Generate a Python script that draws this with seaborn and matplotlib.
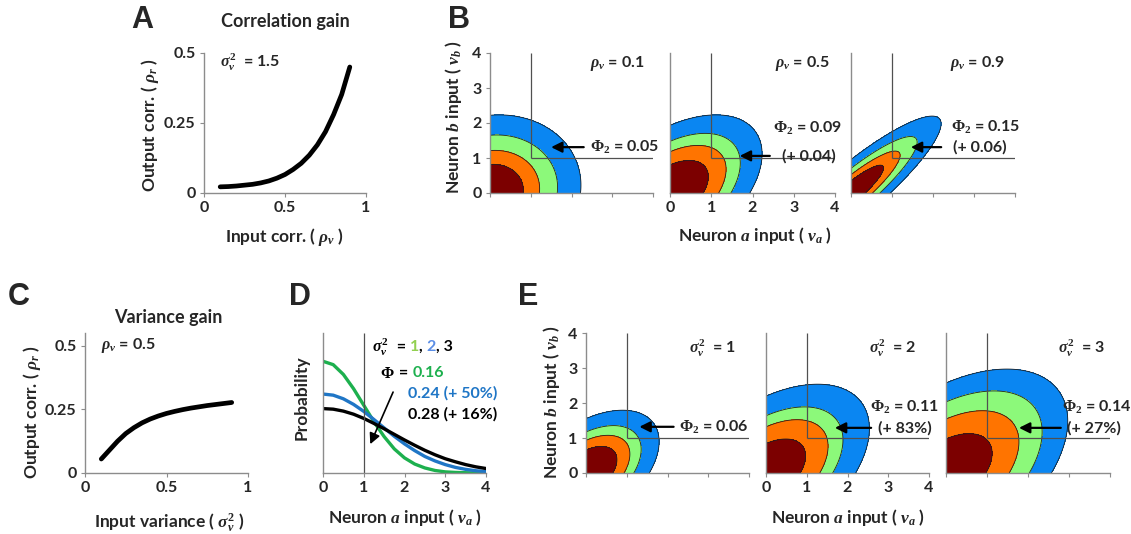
import numpy as np
import pandas as pd
import matplotlib
matplotlib.use("Agg")
import matplotlib.pyplot as plt
import matplotlib.transforms as mtransforms
import seaborn as sns

# ---- data ----
# A: correlation gain (sigma_v^2 = 1.5)
corr_in = [0.10, 0.15, 0.20, 0.25, 0.30, 0.35, 0.40, 0.45, 0.50,
           0.55, 0.60, 0.65, 0.70, 0.75, 0.80, 0.85, 0.90]
corr_out = [0.022, 0.023, 0.025, 0.028, 0.031, 0.036, 0.043, 0.053, 0.066,
            0.084, 0.106, 0.135, 0.172, 0.219, 0.280, 0.352, 0.450]

# C: variance gain (rho_v = 0.5)
var_in = [0.10, 0.15, 0.20, 0.25, 0.30, 0.35, 0.40, 0.45, 0.50,
          0.55, 0.60, 0.65, 0.70, 0.75, 0.80, 0.85, 0.90]
var_out = [0.055, 0.090, 0.125, 0.155, 0.178, 0.197, 0.212, 0.224, 0.234,
           0.242, 0.249, 0.255, 0.260, 0.265, 0.269, 0.273, 0.277]

# D: input distributions for sigma_v^2 = 1, 2, 3
va = [0, 0.25, 0.5, 0.75, 1, 1.25, 1.5, 1.75, 2,
      2.25, 2.5, 2.75, 3, 3.25, 3.5, 3.75, 4]
prob_v1 = [0.399, 0.387, 0.352, 0.301, 0.242, 0.183, 0.130, 0.086, 0.054,
           0.032, 0.018, 0.009, 0.004, 0.002, 0.001, 0.000, 0.000]
prob_v2 = [0.282, 0.278, 0.265, 0.245, 0.220, 0.191, 0.161, 0.131, 0.104,
           0.080, 0.059, 0.043, 0.030, 0.020, 0.013, 0.008, 0.005]
prob_v3 = [0.230, 0.228, 0.221, 0.210, 0.195, 0.177, 0.158, 0.138, 0.118,
           0.099, 0.081, 0.065, 0.051, 0.040, 0.030, 0.022, 0.016]

# B / E: joint input distributions (rho_v, sigma_v^2) per panel
b_rho = [0.1, 0.5, 0.9]
b_var = [1.5, 1.5, 1.5]
b_phi = ["0.05", "0.09", "0.15"]
b_gain = ["", "(+ 0.04)", "(+ 0.06)"]
e_rho = [0.5, 0.5, 0.5]
e_var = [1, 2, 3]
e_phi = ["0.06", "0.11", "0.14"]
e_gain = ["", "(+ 83%)", "(+ 27%)"]
threshold = 1
# contour levels (fraction of peak density)
b_levels = [[0.19, 0.40, 0.61, 0.80], [0.19, 0.38, 0.54, 0.75], [0.20, 0.42, 0.62, 0.81]]
e_levels = [[0.20, 0.40, 0.56, 0.75], [0.20, 0.41, 0.56, 0.79], [0.23, 0.40, 0.59, 0.81]]

# ---- style ----
sns.set_style("ticks")
plt.rcParams["font.family"] = ["Lato", "DejaVu Sans"]
plt.rcParams["font.weight"] = "bold"
plt.rcParams["mathtext.fontset"] = "custom"
plt.rcParams["mathtext.rm"] = "Liberation Serif:bold"
plt.rcParams["mathtext.it"] = "Liberation Serif:italic:bold"
plt.rcParams["mathtext.bf"] = "Liberation Serif:bold"

level_colors = ["#0A86F2", "#8CF97A", "#FF7400", "#7C0000"]
d_colors = ["#1DB04E", "#1F76C6", "#000000"]
grey = "#8C8C8C"
line_grey = "#505050"

W, H = 1131, 534
fig = plt.figure(figsize=(W / 100, H / 100), dpi=100)


def add_ax(l, t, r, b):
    return fig.add_axes([l / W, 1 - b / H, (r - l) / W, (b - t) / H])


def ftext(x, y, s, **kw):
    kw.setdefault("ha", "center")
    kw.setdefault("va", "center")
    return fig.text(x / W, 1 - y / H, s, **kw)


def letter(x, y, s):
    ftext(x, y, s, fontsize=22, family="Liberation Sans", weight="bold")


def style_ax(ax):
    sns.despine(ax=ax)
    for sp in ["left", "bottom"]:
        ax.spines[sp].set_color(grey)
        ax.spines[sp].set_linewidth(1.0)
    ax.tick_params(direction="out", length=3, width=0.8, color=grey,
                   labelsize=11.5, pad=3)


def color_text(ax, x, y, parts, **kw):
    renderer = fig.canvas.get_renderer()
    tr = ax.transData
    for s, c in parts:
        txt = ax.text(x, y, s, color=c, transform=tr, **kw)
        ext = txt.get_window_extent(renderer=renderer)
        tr = mtransforms.offset_copy(txt.get_transform(), x=ext.width, units="dots")


def contour_panel(ax, rho, var, levels, show_x, show_y):
    g = np.linspace(0, 4, 401)
    X, Y = np.meshgrid(g, g)
    q = (X ** 2 - 2 * rho * X * Y + Y ** 2) / (var * (1 - rho ** 2))
    z = np.exp(-q / 2)
    ax.contourf(X, Y, z, levels=levels + [1.01], colors=level_colors)
    ax.contour(X, Y, z, levels=levels, colors="#202020", linewidths=0.6)
    ax.vlines(threshold, threshold, 4, color=line_grey, lw=0.9)
    ax.hlines(threshold, threshold, 4, color=line_grey, lw=0.9)
    ax.set_xlim(0, 4)
    ax.set_ylim(0, 4)
    style_ax(ax)
    ax.set_xticks([0, 1, 2, 3, 4])
    if show_x:
        ax.set_xticklabels(["0", "1", "2", "3", "4"])
    else:
        ax.set_xticklabels([])
    if show_y:
        ax.set_yticks([0, 1, 2, 3, 4])
        ax.set_yticklabels(["0", "1", "2", "3", "4"])
    else:
        ax.set_yticks([])


def arrow(ax, x0, x1, y, lw=1.6):
    ax.annotate("", xy=(x1, y), xytext=(x0, y),
                arrowprops=dict(arrowstyle="-|>", color="k", lw=lw,
                                mutation_scale=16, shrinkA=0, shrinkB=0))


fs_ann = 11.5
fs_lab = 12.5

# ---- A ----
axA = add_ax(204, 53, 366, 193)
sns.lineplot(x=corr_in, y=corr_out, ax=axA, color="k", lw=3.4)
axA.set_xlim(0, 1)
axA.set_ylim(0, 0.5)
style_ax(axA)
axA.set_xticks([0, 0.5, 1])
axA.set_xticklabels(["0", "0.5", "1"])
axA.set_yticks([0, 0.25, 0.5])
axA.set_yticklabels(["0", "0.25", "0.5"])
axA.text(0.1, 0.465, r"$\sigma_v^2$  = 1.5", fontsize=fs_ann, va="center")
letter(142, 20, "A")
ftext(285, 22, "Correlation gain", fontsize=13)
ftext(150, 125, r"Output corr. ( $\rho_r$ )", fontsize=fs_lab, rotation=90)
ftext(285, 237, r"Input corr. ( $\rho_v$ )", fontsize=fs_lab)

# ---- B ----
b_boxes = [(490, 53, 653, 193), (670, 53, 835, 193), (851, 53, 1015, 193)]
b_rho_x = [3.12, 3.2, 3.08]
b_text = [(2.45, 1.31, None), (2.50, 1.86, 2.72), (2.44, 1.89, 2.49)]
b_arrow = [(2.3, 1.5, 1.31), (2.42, 1.69, 1.06), (2.2, 1.46, 1.31)]
for i in range(3):
    ax = add_ax(*b_boxes[i])
    contour_panel(ax, b_rho[i], b_var[i], b_levels[i], show_x=(i == 1), show_y=(i == 0))
    ax.text(b_rho_x[i], 3.7, r"$\rho_v$ = %g" % b_rho[i], fontsize=fs_ann,
            ha="center", va="center")
    tx, ty, gx = b_text[i]
    ax0, ax1, ay = b_arrow[i]
    ax.text(tx, ty, r"$\Phi_2$ = " + b_phi[i], fontsize=fs_ann, ha="left", va="center")
    if b_gain[i]:
        ax.text(gx, ay, b_gain[i], fontsize=fs_ann, ha="left", va="center")
    arrow(ax, ax0, ax1, ay)
letter(459, 20, "B")
ftext(453, 117, r"Neuron $b$ input ( $v_b$ )", fontsize=fs_lab, rotation=90)
ftext(755, 235, r"Neuron $a$ input ( $v_a$ )", fontsize=fs_lab)

# ---- C ----
axC = add_ax(85, 333, 248, 473)
sns.lineplot(x=var_in, y=var_out, ax=axC, color="k", lw=3.4)
axC.set_xlim(0, 1)
axC.set_ylim(0, 0.55)
style_ax(axC)
axC.set_xticks([0, 0.5, 1])
axC.set_xticklabels(["0", "0.5", "1"])
axC.set_yticks([0, 0.25, 0.5])
axC.set_yticklabels(["0", "0.25", "0.5"])
axC.text(0.1, 0.5, r"$\rho_v$ = 0.5", fontsize=fs_ann, va="center")
letter(19, 297, "C")
ftext(168, 317, "Variance gain", fontsize=13)
ftext(32, 412, r"Output corr. ( $\rho_r$ )", fontsize=fs_lab, rotation=90)
ftext(169, 522, r"Input variance ( $\sigma_v^2$ )", fontsize=fs_lab)

# ---- D ----
axD = add_ax(323, 333, 486, 473)
df_d = pd.DataFrame({
    "va": va * 3,
    "p": prob_v1 + prob_v2 + prob_v3,
    "var": [1] * len(va) + [2] * len(va) + [3] * len(va),
})
sns.lineplot(data=df_d, x="va", y="p", hue="var", palette=d_colors,
             lw=2.4, legend=False, ax=axD)
axD.vlines(threshold, 0, 0.5, color=line_grey, lw=0.9)
axD.set_xlim(0, 4)
axD.set_ylim(0, 0.5)
style_ax(axD)
axD.set_xticks([0, 1, 2, 3, 4])
axD.set_xticklabels(["0", "1", "2", "3", "4"])
axD.set_yticks([])
axD.set_xlabel("")
axD.set_ylabel("")
color_text(axD, 1.21, 0.45, [(r"$\sigma_v^2$", "k"), ("  = ", "k"), ("1", "#92D050"),
                             (", ", "k"), ("2", "#5B8EE6"), (", 3", "k")],
           fontsize=fs_ann, va="center")
color_text(axD, 1.41, 0.357, [(r"$\Phi$", "k"), (" = ", "k"), ("0.16", d_colors[0])],
           fontsize=fs_ann, va="center")
axD.text(2.09, 0.285, "0.24 (+ 50%)", color=d_colors[1], fontsize=fs_ann, va="center")
axD.text(2.09, 0.21, "0.28 (+ 16%)", color="k", fontsize=fs_ann, va="center")
axD.annotate("", xy=(1.16, 0.103), xytext=(1.72, 0.289),
             arrowprops=dict(arrowstyle="-|>", color="k", lw=1.2,
                             mutation_scale=16, shrinkA=0, shrinkB=0))
letter(300, 297, "D")
ftext(302, 398, "Probability", fontsize=fs_lab, rotation=90)
ftext(405, 518, r"Neuron $a$ input ( $v_a$ )", fontsize=fs_lab)

# ---- E ----
e_boxes = [(586, 333, 749, 473), (766, 333, 929, 473), (946, 333, 1110, 473)]
e_var_x = [3.1, 3.1, 3.3]
e_text = [(2.27, 1.32, None), (2.56, 1.89, 2.75), (2.84, 1.89, 2.96)]
e_arrow = [(2.15, 1.31, 1.32), (2.58, 1.69, 1.29), (2.8, 1.78, 1.29)]
for i in range(3):
    ax = add_ax(*e_boxes[i])
    contour_panel(ax, e_rho[i], e_var[i], e_levels[i], show_x=(i == 1), show_y=(i == 0))
    ax.text(e_var_x[i], 3.56, r"$\sigma_v^2$  = %g" % e_var[i], fontsize=fs_ann,
            ha="center", va="center")
    tx, ty, gx = e_text[i]
    ax0, ax1, ay = e_arrow[i]
    ax.text(tx, ty, r"$\Phi_2$ = " + e_phi[i], fontsize=fs_ann, ha="left", va="center")
    if e_gain[i]:
        ax.text(gx, ay, e_gain[i], fontsize=fs_ann, ha="left", va="center")
    arrow(ax, ax0, ax1, ay)
letter(528, 297, "E")
ftext(552, 402, r"Neuron $b$ input ( $v_b$ )", fontsize=fs_lab, rotation=90)
ftext(848, 518, r"Neuron $a$ input ( $v_a$ )", fontsize=fs_lab)

fig.savefig("out.png", dpi=100)
